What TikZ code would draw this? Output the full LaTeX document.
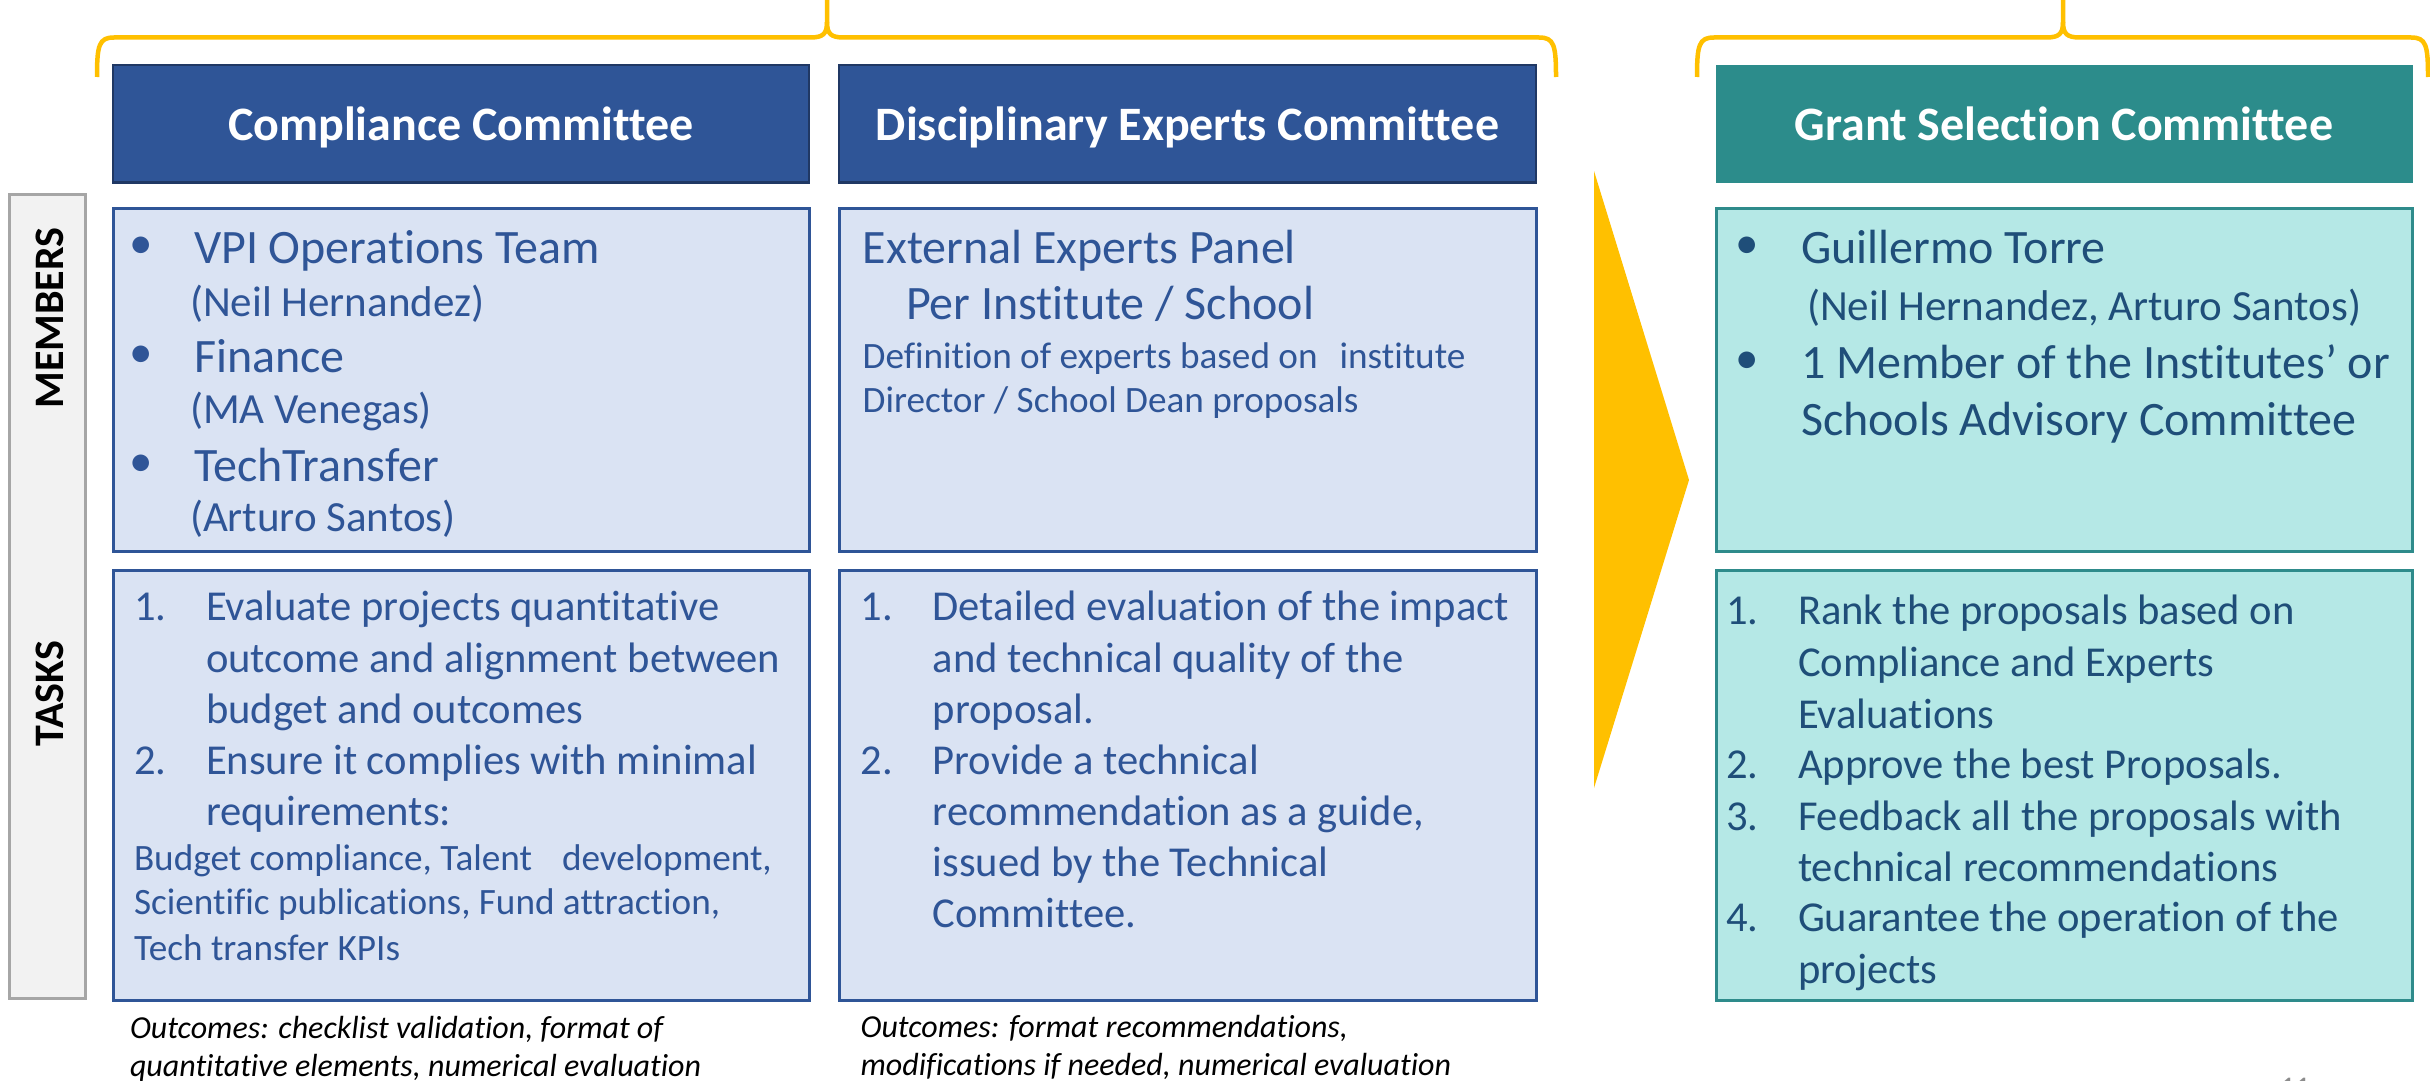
\documentclass[tikz,border=0pt]{standalone}
\usepackage{fontspec}
\setmainfont{Carlito}[Ligatures={NoCommon}]
\newcommand\fsz[1]{\fontsize{#1}{#1}\selectfont}
\definecolor{hdrblue}{HTML}{2F5597}
\definecolor{hdrline}{HTML}{203864}
\definecolor{boxblue}{HTML}{2F5597}
\definecolor{boxfill}{HTML}{DAE3F3}
\definecolor{tealhdr}{HTML}{2C8C8B}
\definecolor{tealline}{HTML}{2E8B8B}
\definecolor{tealfill}{HTML}{B5E8E6}
\definecolor{grayfill}{HTML}{F2F2F2}
\definecolor{graybd}{HTML}{A6A6A6}
\definecolor{gold}{HTML}{FFC000}
\definecolor{txtblue}{HTML}{2F5597}
\definecolor{txtteal}{HTML}{1F4E79}
\definecolor{pggray}{HTML}{8C8C8C}
\tikzset{
  hdrbox/.style={draw=hdrline, fill=hdrblue, line width=2.5pt},
  bluebox/.style={draw=boxblue, fill=boxfill, line width=3pt},
  tealbox/.style={draw=tealline, fill=tealfill, line width=3pt},
  lblbox/.style={draw=graybd, fill=grayfill, line width=3pt},
  bracepath/.style={draw=gold, line width=4.5pt, line cap=butt},
  tx/.style={anchor=base west, inner sep=0pt, outer sep=0pt},
  mainln/.style={tx, font=\fsz{48}},
  subln/.style={tx, font=\fsz{43}},
  taskln/.style={tx, font=\fsz{42.6}},
  smallln/.style={tx, font=\fsz{37.2}},
  outcln/.style={tx, font=\fsz{32}\itshape, text=black},
  hdrtxt/.style={anchor=base, inner sep=0pt, text=white, font=\fsz{48}\bfseries},
  lbltxt/.style={inner sep=0pt, rotate=90, font=\fsz{42}\bfseries, text=black},
  bul/.style={inner sep=0pt, font=\fsz{47}},
}
\begin{document}
\begin{tikzpicture}[x=1pt,y=-1pt]
\useasboundingbox (0,0) rectangle (2430,1081);
\fill[white] (0,0) rectangle (2430,1081);

% braces
\draw[bracepath] (97,77) .. controls (97,45) and (99,37.5) .. (114,37.5) -- (810,37.5) .. controls (823,37.5) and (827,34) .. (827,22) -- (827,-10);
\draw[bracepath] (1556,77) .. controls (1556,45) and (1554,37.5) .. (1539,37.5) -- (844,37.5) .. controls (831,37.5) and (827,34) .. (827,22);
\draw[bracepath] (1697,77) .. controls (1697,45) and (1699,37.5) .. (1714,37.5) -- (2046,37.5) .. controls (2059,37.5) and (2063,34) .. (2063,22) -- (2063,-10);
\draw[bracepath] (2428,77) .. controls (2428,45) and (2426,37.5) .. (2411,37.5) -- (2080,37.5) .. controls (2067,37.5) and (2063,34) .. (2063,22);

% big arrow
\fill[gold] (1594,171) -- (1689,480) -- (1594,788) -- cycle;

% side label box
\draw[lblbox] (9,194.5) rectangle (85,998.5);
\node[lbltxt] (lmem) at (50,318) {MEMBERS};
\node[lbltxt] (ltask) at (50,693.5) {TASKS};

% headers
\draw[hdrbox] (113,65) rectangle (809,182.5);
\draw[hdrbox] (839,65) rectangle (1536,182.5);
\fill[tealhdr] (1716,65) rectangle (2412.5,182.5);
\node[hdrtxt] (hc) at (461,140) {Compliance Committee};
\node[hdrtxt] (he) at (1187.5,140) {Disciplinary Experts Committee};
\node[hdrtxt] (hg) at (2064,140) {Grant Selection Committee};

% content boxes
\draw[bluebox] (113,208) rectangle (809,551);
\draw[bluebox] (113,570) rectangle (809,1000);
\draw[bluebox] (839,208) rectangle (1536,551);
\draw[bluebox] (839,570) rectangle (1536,1000);
\draw[tealbox] (1716,208) rectangle (2412,551);
\draw[tealbox] (1716,570) rectangle (2412,1000);

% Compliance members
\begin{scope}[text=txtblue]
\node[bul] (cb1) at (141.5,248) {•};
\node[bul] (cb2) at (141.5,357) {•};
\node[bul] (cb3) at (141.5,466) {•};
\node[mainln] (cm1) at (194,263.3) {VPI Operations Team};
\node[subln] (cm2) at (190,316) {(Neil Hernandez)};
\node[mainln] (cm3) at (194,372.3) {Finance};
\node[subln] (cm4) at (190,423.3) {(MA Venegas)};
\node[mainln] (cm5) at (194,481) {TechTransfer};
\node[subln] (cm6) at (190,531.7) {(Arturo Santos)};

% Compliance tasks
\node[taskln] (ct1n) at (134,620.7) {1.};
\node[taskln] (ct1) at (206,620.7) {Evaluate projects quantitative};
\node[taskln] (ct2) at (206,672.3) {outcome and alignment between};
\node[taskln] (ct3) at (206,723.3) {budget and outcomes};
\node[taskln] (ct4n) at (134,774.3) {2.};
\node[taskln] (ct4) at (206,774.3) {Ensure it complies with minimal};
\node[taskln] (ct5) at (206,825) {requirements:};
\node[smallln] (ct6) at (134,870) {Budget compliance, Talent\hspace{30pt}development,};
\node[smallln] (ct7) at (134,914.3) {Scientific publications, Fund attraction,};
\node[smallln] (ct8) at (134,960) {Tech transfer KPIs};

% Experts members
\node[mainln] (em1) at (862.7,263.3) {External Experts Panel};
\node[mainln] (em2) at (906,319.6) {Per Institute / School};
\node[smallln] (em3) at (862.7,368) {Definition of experts based on\hspace{22pt}institute};
\node[smallln] (em4) at (862.7,412.5) {Director / School Dean proposals};

% Experts tasks
\node[taskln] (et1n) at (860.6,620.7) {1.};
\node[taskln] (et1) at (932.7,620.7) {Detailed evaluation of the impact};
\node[taskln] (et2) at (932.7,672) {and technical quality of the};
\node[taskln] (et3) at (932.7,723) {proposal.};
\node[taskln] (et4n) at (860.6,774.3) {2.};
\node[taskln] (et4) at (932.7,774.3) {Provide a technical};
\node[taskln] (et5) at (932.7,825) {recommendation as a guide,};
\node[taskln] (et6) at (932.7,876) {issued by the Technical};
\node[taskln] (et7) at (932.7,927) {Committee.};
\end{scope}

% Grant members and tasks
\begin{scope}[text=txtteal]
\node[bul] (gb1) at (1747.5,247.5) {•};
\node[bul] (gb2) at (1747.5,363) {•};
\node[mainln] (gm1) at (1801,263.3) {Guillermo Torre};
\node[subln] (gm2) at (1807,320) {(Neil Hernandez, Arturo Santos)};
\node[mainln] (gm3) at (1801,378.6) {1 Member of the Institutes’ or};
\node[mainln] (gm4) at (1801,435.7) {Schools Advisory Committee};

\node[taskln] (gt1n) at (1726,624.5) {1.};
\node[taskln] (gt1) at (1798,624.5) {Rank the proposals based on};
\node[taskln] (gt2) at (1798,676.3) {Compliance and Experts};
\node[taskln] (gt3) at (1798,728) {Evaluations};
\node[taskln] (gt4n) at (1726,778) {2.};
\node[taskln] (gt4) at (1798,778) {Approve the best Proposals.};
\node[taskln] (gt5n) at (1726,830) {3.};
\node[taskln] (gt5) at (1798,830) {Feedback all the proposals with};
\node[taskln] (gt6) at (1798,881.6) {technical recommendations};
\node[taskln] (gt7n) at (1726,931.6) {4.};
\node[taskln] (gt7) at (1798,931.6) {Guarantee the operation of the};
\node[taskln] (gt8) at (1798,983.4) {projects};
\end{scope}

% outcomes
\node[outcln] (co1) at (130,1038.6) {Outcomes: checklist validation, format of};
\node[outcln] (co2) at (130,1076.6) {quantitative elements, numerical evaluation};
\node[outcln] (eo1) at (860.6,1037) {Outcomes: format recommendations,};
\node[outcln] (eo2) at (860.6,1075) {modifications if needed, numerical evaluation};

% page number (cut off at the lower edge, as in the slide)
\node[tx, font=\fsz{30}, text=pggray] (pg) at (2280,1097) {11};
\end{tikzpicture}
\end{document}
